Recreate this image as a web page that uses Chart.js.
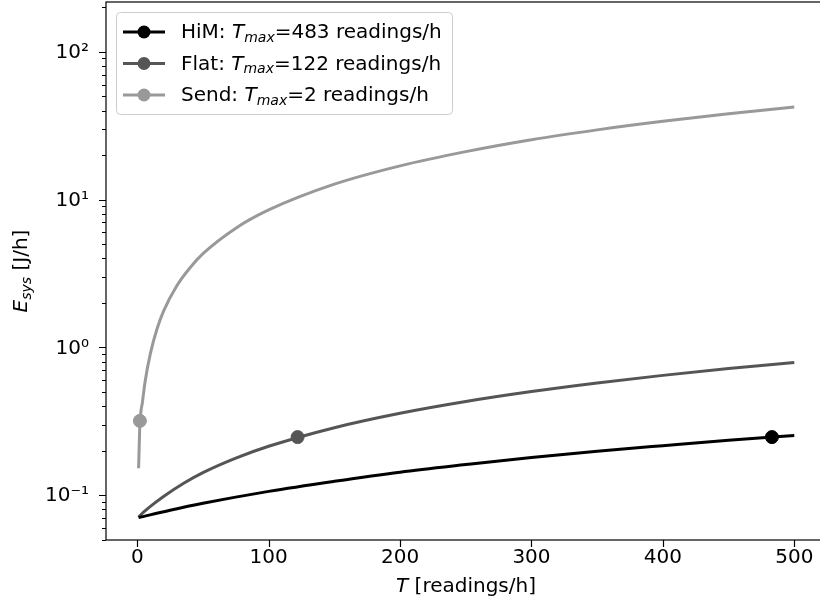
<!DOCTYPE html>
<html>
<head>
<meta charset="utf-8">
<script src="https://cdn.jsdelivr.net/npm/chart.js@4/dist/chart.umd.min.js"></script>
<style>
  html, body { margin: 0; padding: 0; background: #fff; overflow: hidden; }
  #wrap { position: relative; width: 827px; height: 608px; }
</style>
</head>
<body>
<div id="wrap"><canvas id="chart"></canvas></div>
<script>
// Series (T in readings/h, E in J/h)
const himT = [1, 25, 50, 100, 150, 200, 250, 300, 350, 400, 450, 500];
const himE = [0.0705, 0.079, 0.088, 0.106, 0.124, 0.143, 0.161, 0.180, 0.198, 0.216, 0.235, 0.253];

const flatT = [1, 5, 10, 20, 35, 50, 75, 100, 150, 200, 250, 300, 350, 400, 450, 500];
const flatE = [0.071, 0.077, 0.084, 0.098, 0.120, 0.142, 0.178, 0.214, 0.286, 0.358, 0.430, 0.502, 0.574, 0.646, 0.718, 0.790];

const sendT = [1, 2, 4, 6, 10, 15, 20, 30, 40, 50, 75, 100, 150, 200, 250, 300, 350, 400, 450, 500];
const sendE = [0.152, 0.30, 0.43, 0.59, 0.91, 1.33, 1.76, 2.6, 3.44, 4.3, 6.4, 8.5, 12.7, 16.9, 21.1, 25.4, 29.6, 33.8, 38.0, 42.2];

// T_max markers
const markerNames = ["HiM", "Flat", "Send"];
const markerT = [483, 122, 2];
const markerE = [0.247, 0.247, 0.318];
const colors = ["#000000", "#555555", "#999999"];

const xTicks = [0, 100, 200, 300, 400, 500];
const yTicks = [0.1, 1, 10, 100];
const yTickLabels = ["10⁻¹", "10⁰", "10¹", "10²"];

const FONT = "DejaVu Sans";
const FS = 20;

const pts = (xs, ys) => xs.map((x, i) => ({ x: x, y: ys[i] }));

function curve(xs, ys, color) {
  return {
    data: pts(xs, ys),
    borderColor: color,
    borderWidth: 3,
    pointRadius: 0,
    cubicInterpolationMode: "monotone",
    showLine: true,
    fill: false
  };
}

function marker(i) {
  return {
    data: [{ x: markerT[i], y: markerE[i] }],
    backgroundColor: colors[i],
    borderColor: colors[i],
    pointRadius: 6.5,
    pointHoverRadius: 6.5,
    showLine: false
  };
}

// text made of plain / italic / subscript pieces
function richParts(ctx, parts, size) {
  return parts.map(p => {
    const s = p.sub ? size * 0.7 : size;
    const font = (p.it ? "italic " : "") + s + "px '" + FONT + "'";
    ctx.font = font;
    return { t: p.t, font: font, w: ctx.measureText(p.t).width, dy: p.sub ? size * 0.25 : 0 };
  });
}

function drawRich(ctx, parts, x, y, size, align) {
  const list = richParts(ctx, parts, size);
  const total = list.reduce((a, p) => a + p.w, 0);
  let cx = align === "center" ? x - total / 2 : x;
  ctx.textAlign = "left";
  ctx.textBaseline = "middle";
  list.forEach(p => {
    ctx.font = p.font;
    ctx.fillText(p.t, cx, y + p.dy);
    cx += p.w;
  });
}

const decor = {
  id: "decor",
  afterDraw(chart) {
    const ctx = chart.ctx;
    const a = chart.chartArea;
    const xs = chart.scales.x, ys = chart.scales.y;
    ctx.save();
    ctx.strokeStyle = "#000";
    ctx.fillStyle = "#000";
    ctx.lineWidth = 1.2;

    // frame
    ctx.strokeRect(a.left, a.top, a.right - a.left, a.bottom - a.top);

    // x ticks
    ctx.beginPath();
    xTicks.forEach(v => {
      const px = Math.round(xs.getPixelForValue(v)) + 0.5;
      ctx.moveTo(px, a.bottom);
      ctx.lineTo(px, a.bottom + 7);
    });
    // y major + minor ticks
    for (let k = -2; k <= 3; k++) {
      for (let m = 1; m <= 9; m++) {
        const v = m * Math.pow(10, k);
        if (v < ys.min || v > ys.max) continue;
        const py = Math.round(ys.getPixelForValue(v)) + 0.5;
        ctx.moveTo(a.left, py);
        ctx.lineTo(a.left - (m === 1 ? 7 : 4), py);
      }
    }
    ctx.stroke();

    // tick labels
    ctx.font = FS + "px '" + FONT + "'";
    ctx.textAlign = "center";
    ctx.textBaseline = "middle";
    xTicks.forEach(v => ctx.fillText(String(v), xs.getPixelForValue(v), a.bottom + 18));
    ctx.textAlign = "right";
    yTicks.forEach((v, i) => ctx.fillText(yTickLabels[i], a.left - 17, ys.getPixelForValue(v) + 1));

    // axis titles
    drawRich(ctx, [{ t: "T", it: true }, { t: " [readings/h]" }], 466, 587, FS, "center");
    ctx.save();
    ctx.translate(22, 271);
    ctx.rotate(-Math.PI / 2);
    drawRich(ctx, [{ t: "E", it: true }, { t: "sys", it: true, sub: true }, { t: " [J/h]" }], 0, 0, FS, "center");
    ctx.restore();

    // legend
    ctx.fillStyle = "rgba(255,255,255,0.8)";
    ctx.strokeStyle = "#cccccc";
    ctx.lineWidth = 1;
    ctx.beginPath();
    ctx.roundRect(116.5, 12.5, 336, 102, 4);
    ctx.fill();
    ctx.stroke();
    const rowY = [32, 63.5, 95];
    markerNames.forEach((name, i) => {
      ctx.strokeStyle = colors[i];
      ctx.fillStyle = colors[i];
      ctx.lineWidth = 3;
      ctx.beginPath();
      ctx.moveTo(123, rowY[i]);
      ctx.lineTo(165, rowY[i]);
      ctx.stroke();
      ctx.beginPath();
      ctx.arc(144, rowY[i], 6.5, 0, Math.PI * 2);
      ctx.fill();
      ctx.fillStyle = "#000";
      drawRich(ctx, [
        { t: name + ": " },
        { t: "T", it: true },
        { t: "max", it: true, sub: true },
        { t: "=" + markerT[i] + " readings/h" }
      ], 181, rowY[i] + 1, FS, "left");
    });
    ctx.restore();
  }
};

new Chart(document.getElementById("chart"), {
  type: "scatter",
  data: {
    datasets: [
      curve(himT, himE, colors[0]),
      curve(flatT, flatE, colors[1]),
      curve(sendT, sendE, colors[2]),
      marker(0), marker(1), marker(2)
    ]
  },
  options: {
    responsive: true,
    maintainAspectRatio: false,
    animation: false,
    layout: { autoPadding: false, padding: { top: 2, left: 0, right: 0, bottom: 0 } },
    plugins: { legend: { display: false }, tooltip: { enabled: false } },
    scales: {
      x: {
        type: "linear",
        min: -23.8,
        max: 524.9,
        grid: { display: false },
        border: { display: false },
        afterBuildTicks: s => { s.ticks = xTicks.map(v => ({ value: v })); },
        afterFit: s => { s.height = 68; },
        ticks: { display: false }
      },
      y: {
        type: "logarithmic",
        min: 0.0497,
        max: 217,
        grid: { display: false },
        border: { display: false },
        afterBuildTicks: s => { s.ticks = yTicks.map(v => ({ value: v })); },
        afterFit: s => { s.width = 106; },
        ticks: { display: false }
      }
    }
  },
  plugins: [decor]
});
</script>
</body>
</html>
